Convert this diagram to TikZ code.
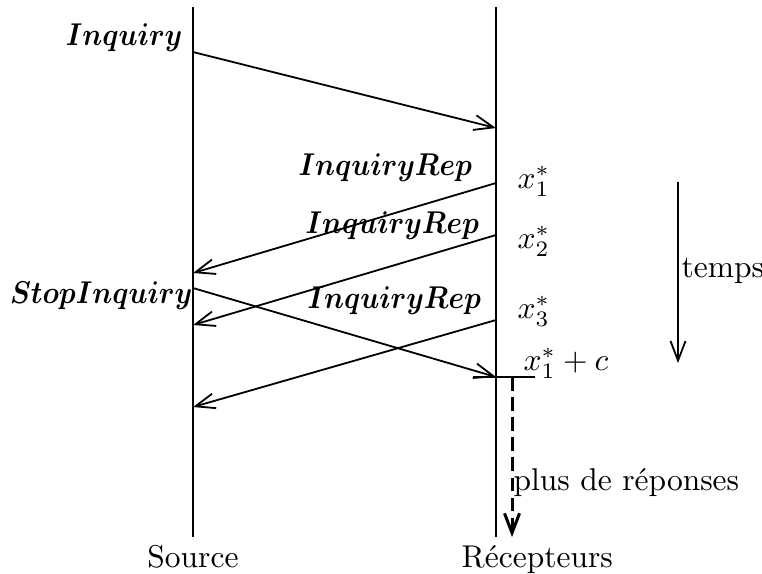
\RequirePackage{fix-cm}
\documentclass[tikz,border=0pt]{standalone}
\usepackage{amsmath}
\usepackage{bm}
\usepackage{graphicx}
\usetikzlibrary{arrows.meta}
\newcommand{\msgname}[1]{\scalebox{0.89}[1]{$\bm{#1}$}}

\begin{document}
\begin{tikzpicture}[
    x=0.3333pt,
    y=-0.3333pt,
    every node/.style={font=\fontsize{10.5}{12.6}\selectfont},
    lifeline/.style={draw=black, line width=0.65pt},
    msg/.style={-{Straight Barb[length=6.5pt,width=5pt]}, draw=black, line width=0.6pt},
    silent/.style={-{Straight Barb[length=6.5pt,width=5pt]}, draw=black, line width=1pt, dash pattern=on 4.5pt off 2.2pt},
    lbl/.style={inner sep=0pt}
  ]
    \useasboundingbox (0,0) rectangle (762,573);

    % lifelines
    \coordinate (srctop) at (193,7);
    \coordinate (srcbot) at (193,537);
    \coordinate (rcvtop) at (496,7);
    \coordinate (rcvbot) at (496,537);
    \draw[lifeline] (srctop) -- (srcbot);
    \draw[lifeline] (rcvtop) -- (rcvbot);

    \coordinate (inqs) at (193,52);
    \coordinate (inqr) at (496,128);
    \coordinate (rep1r) at (496,183);
    \coordinate (rep1s) at (193,273);
    \coordinate (rep2r) at (496,235);
    \coordinate (rep2s) at (193,325);
    \coordinate (stops) at (193,288);
    \coordinate (stopr) at (496,377);
    \coordinate (rep3r) at (496,320);
    \coordinate (rep3s) at (193,407);

    \draw[msg] (inqs) -- (inqr);
    \draw[msg] (rep1r) -- (rep1s);
    \draw[msg] (rep2r) -- (rep2s);
    \draw[msg] (stops) -- (stopr);
    \draw[msg] (rep3r) -- (rep3s);

    % deadline x_1^*+c
    \coordinate (tickl) at (473,377);
    \coordinate (tickr) at (535,377);
    \draw[lifeline] (tickl) -- (tickr);
    \coordinate (dashtop) at (512,377);
    \coordinate (dashbot) at (512,537);
    \draw[silent] (dashtop) -- (dashbot);

    \coordinate (tempstop) at (678,182);
    \coordinate (tempsbot) at (678,363);
    \draw[msg] (tempstop) -- (tempsbot);

    \node[lbl, anchor=base east] (inq) at (183,45) {\msgname{Inquiry}};
    \node[lbl, anchor=base west] (rep1) at (298,175) {\msgname{InquiryRep}};
    \node[lbl, anchor=base west] (rep2) at (305,233) {\msgname{InquiryRep}};
    \node[lbl, anchor=base west] (rep3) at (307,308) {\msgname{InquiryRep}};
    \node[lbl, anchor=base east] (stop) at (193,303) {\msgname{StopInquiry}};

    \node[lbl, anchor=base west] (x1) at (517,188) {$x_1^*$};
    \node[lbl, anchor=base west] (x2) at (517,248) {$x_2^*$};
    \node[lbl, anchor=base west] (x3) at (517,318) {$x_3^*$};
    \node[lbl, anchor=base west] (x1c) at (523,370) {$x_1^*+c$};

    \node[lbl, anchor=base west] (temps) at (681,277) {temps};
    \node[lbl, anchor=base west] (nomore) at (513,490) {plus de réponses};
    \node[lbl, anchor=base] (src) at (193,567) {Source};
    \node[lbl, anchor=base west] (rcv) at (461,567) {Récepteurs};
  \end{tikzpicture}
\end{document}
